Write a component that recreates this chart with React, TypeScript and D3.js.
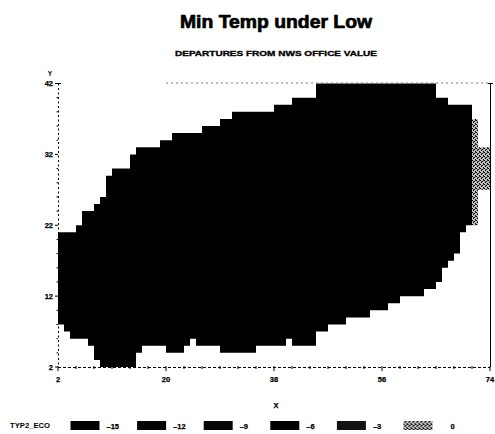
import React from "react";
import * as d3 from "d3";

// ---- data ----
// upper edge of the -15 region: column starts and top values
const topX = [2, 5, 6, 8, 9, 10, 11, 14, 15, 19, 21, 26, 29, 31, 38, 41, 45, 65, 67, 71];
const topY = [21, 22, 24, 25, 26, 29, 30, 32, 33, 34, 35, 36, 37, 38, 39, 40, 42, 40, 39];
// lower edge of the -15 region
const bottomX = [2, 3, 4, 7, 8, 9, 15, 16, 20, 23, 24, 25, 29, 35, 40, 41, 45, 47, 50, 54, 57, 59, 63, 65, 66, 67, 68, 69, 70, 71];
const bottomY = [8, 7, 6, 5, 3, 2, 4, 5, 4, 5, 6, 5, 4, 5, 6, 5, 7, 8, 9, 10, 11, 12, 13, 14, 16, 17, 18, 21, 22];
// the 0 region at the right edge
const zeroX = [71, 72, 74];
const zeroLow = [22, 27];
const zeroHigh = [37, 33];

const levels = [-15, -12, -9, -6, -3, 0];
const levelColors = ["#000000", "#030303", "#070707", "#000000", "#121212", "url(#speckle)"];
const xTicks = [2, 20, 38, 56, 74];
const yTicks = [2, 12, 22, 32, 42];
const xMinor = [5, 8, 11, 14, 17, 23, 26, 29, 32, 35, 41, 44, 47, 50, 53, 59, 62, 65, 68, 71];
const yMinor = [4, 6, 8, 10, 14, 16, 18, 20, 24, 26, 28, 30, 34, 36, 38, 40];

const W = 495;
const H = 434;

export default function App() {
  const x = d3.scaleLinear().domain([2, 74]).range([58, 490]);
  const y = d3.scaleLinear().domain([2, 42]).range([367, 83.5]);
  const color = d3.scaleOrdinal<number, string>().domain(levels).range(levelColors);
  const line = d3
    .line<[number, number]>()
    .x((d) => x(d[0]))
    .y((d) => y(d[1]));

  // -15 polygon
  const mainPts: [number, number][] = [];
  for (let i = 0; i < topY.length; i++) {
    mainPts.push([topX[i], topY[i]], [topX[i + 1], topY[i]]);
  }
  for (let i = bottomY.length - 1; i >= 0; i--) {
    mainPts.push([bottomX[i + 1], bottomY[i]], [bottomX[i], bottomY[i]]);
  }
  const mainPath = line(mainPts) + "Z";

  const zeroPts: [number, number][] = [];
  for (let i = 0; i < zeroHigh.length; i++) {
    zeroPts.push([zeroX[i], zeroHigh[i]], [zeroX[i + 1], zeroHigh[i]]);
  }
  for (let i = zeroLow.length - 1; i >= 0; i--) {
    zeroPts.push([zeroX[i + 1], zeroLow[i]], [zeroX[i], zeroLow[i]]);
  }
  const zeroPath = line(zeroPts) + "Z";

  const font = "'Liberation Sans', Arial, sans-serif";
  const x0 = x(2);
  const x1 = x(74);
  const yb = y(2);
  const yt = y(42);

  return (
    <svg width={W} height={H} style={{ position: "absolute", left: 0, top: 0 }} fontFamily={font}>
      <defs>
        <pattern id="speckle" width={4} height={4} patternUnits="userSpaceOnUse">
          <rect width={4} height={4} fill="#bdbdbd" />
          <rect x={0} y={0} width={1} height={1} fill="#000" />
          <rect x={2} y={1} width={1} height={1} fill="#000" />
          <rect x={1} y={2} width={1} height={1} fill="#000" />
          <rect x={3} y={3} width={1} height={1} fill="#000" />
          <rect x={3} y={0} width={1} height={1} fill="#333" />
          <rect x={1} y={1} width={1} height={1} fill="#555" />
        </pattern>
      </defs>
      <rect x={0} y={0} width={W} height={H} fill="#fff" />
      <text x={276} y={28} textAnchor="middle" fontSize={18} fontWeight="bold" textLength={192} lengthAdjust="spacingAndGlyphs" stroke="#000" strokeWidth={0.7}>
        Min Temp under Low
      </text>
      <text x={276} y={55.5} textAnchor="middle" fontSize={8} fontWeight="bold" textLength={202} lengthAdjust="spacingAndGlyphs" stroke="#000" strokeWidth={0.35}>
        DEPARTURES FROM NWS OFFICE VALUE
      </text>

      {/* cells */}
      <path d={mainPath} fill={color(-15)} />
      <path d={zeroPath} fill={color(0)} />

      {/* frame */}
      <line x1={x(20)} x2={x1} y1={yt - 0.5} y2={yt - 0.5} stroke="#777" strokeWidth={1} strokeDasharray="2 3" />
      <line x1={x1 + 0.5} x2={x1 + 0.5} y1={yt} y2={yb} stroke="#000" strokeWidth={1} />
      <line x1={x1 - 2} x2={x1 + 3} y1={yt} y2={yt} stroke="#000" strokeWidth={1} />

      {/* left axis */}
      <line x1={x0 + 0.5} x2={x0 + 0.5} y1={yt} y2={yb} stroke="#000" strokeWidth={1} strokeDasharray="2 2.5" />
      <line x1={x0 - 2} x2={x0 + 3} y1={yt} y2={yt} stroke="#000" strokeWidth={1} />
      {yTicks.map((t) => (
        <g key={"yt" + t}>
          <line x1={x0 - 3} x2={x0} y1={y(t)} y2={y(t)} stroke="#000" strokeWidth={1} />
          <text x={x0 - 5} y={y(t) + 2.5} textAnchor="end" fontSize={7.5} fontWeight="bold" stroke="#000" strokeWidth={0.25}>
            {t}
          </text>
        </g>
      ))}
      {yMinor.map((t) => (
        <line key={"ym" + t} x1={x0 - 1.5} x2={x0} y1={y(t)} y2={y(t)} stroke="#000" strokeWidth={1} />
      ))}
      <text x={x0 - 8} y={76} textAnchor="middle" fontSize={6.5} fontWeight="bold">
        Y
      </text>

      {/* bottom axis */}
      <line x1={x0} x2={x1} y1={yb + 0.5} y2={yb + 0.5} stroke="#000" strokeWidth={1} strokeDasharray="3 2" />
      {xTicks.map((t) => (
        <g key={"xt" + t}>
          <line x1={x(t)} x2={x(t)} y1={yb - 1} y2={yb + 4} stroke="#000" strokeWidth={1} />
          <text x={x(t)} y={yb + 15} textAnchor="middle" fontSize={7.5} fontWeight="bold" stroke="#000" strokeWidth={0.25}>
            {t}
          </text>
        </g>
      ))}
      {xMinor.map((t) => (
        <line key={"xm" + t} x1={x(t)} x2={x(t)} y1={yb - 1} y2={yb + 2} stroke="#000" strokeWidth={1} />
      ))}
      <text x={276} y={408} textAnchor="middle" fontSize={7.5} fontWeight="bold" stroke="#000" strokeWidth={0.25}>
        X
      </text>

      {/* legend */}
      <text x={10} y={428} fontSize={7} fontWeight="bold" textLength={40} lengthAdjust="spacingAndGlyphs">
        TYP2_ECO
      </text>
      {levels.map((lv, i) => (
        <g key={"lg" + lv} transform={`translate(${70.5 + i * 66.6},0)`}>
          <rect x={0} y={421} width={29} height={9} fill={color(lv)} />
          <text x={lv === 0 ? 47 : 36} y={428.5} fontSize={7.5} fontWeight="bold" stroke="#000" strokeWidth={0.25}>
            {lv === 0 ? "0" : "\u2013" + Math.abs(lv)}
          </text>
        </g>
      ))}
    </svg>
  );
}
